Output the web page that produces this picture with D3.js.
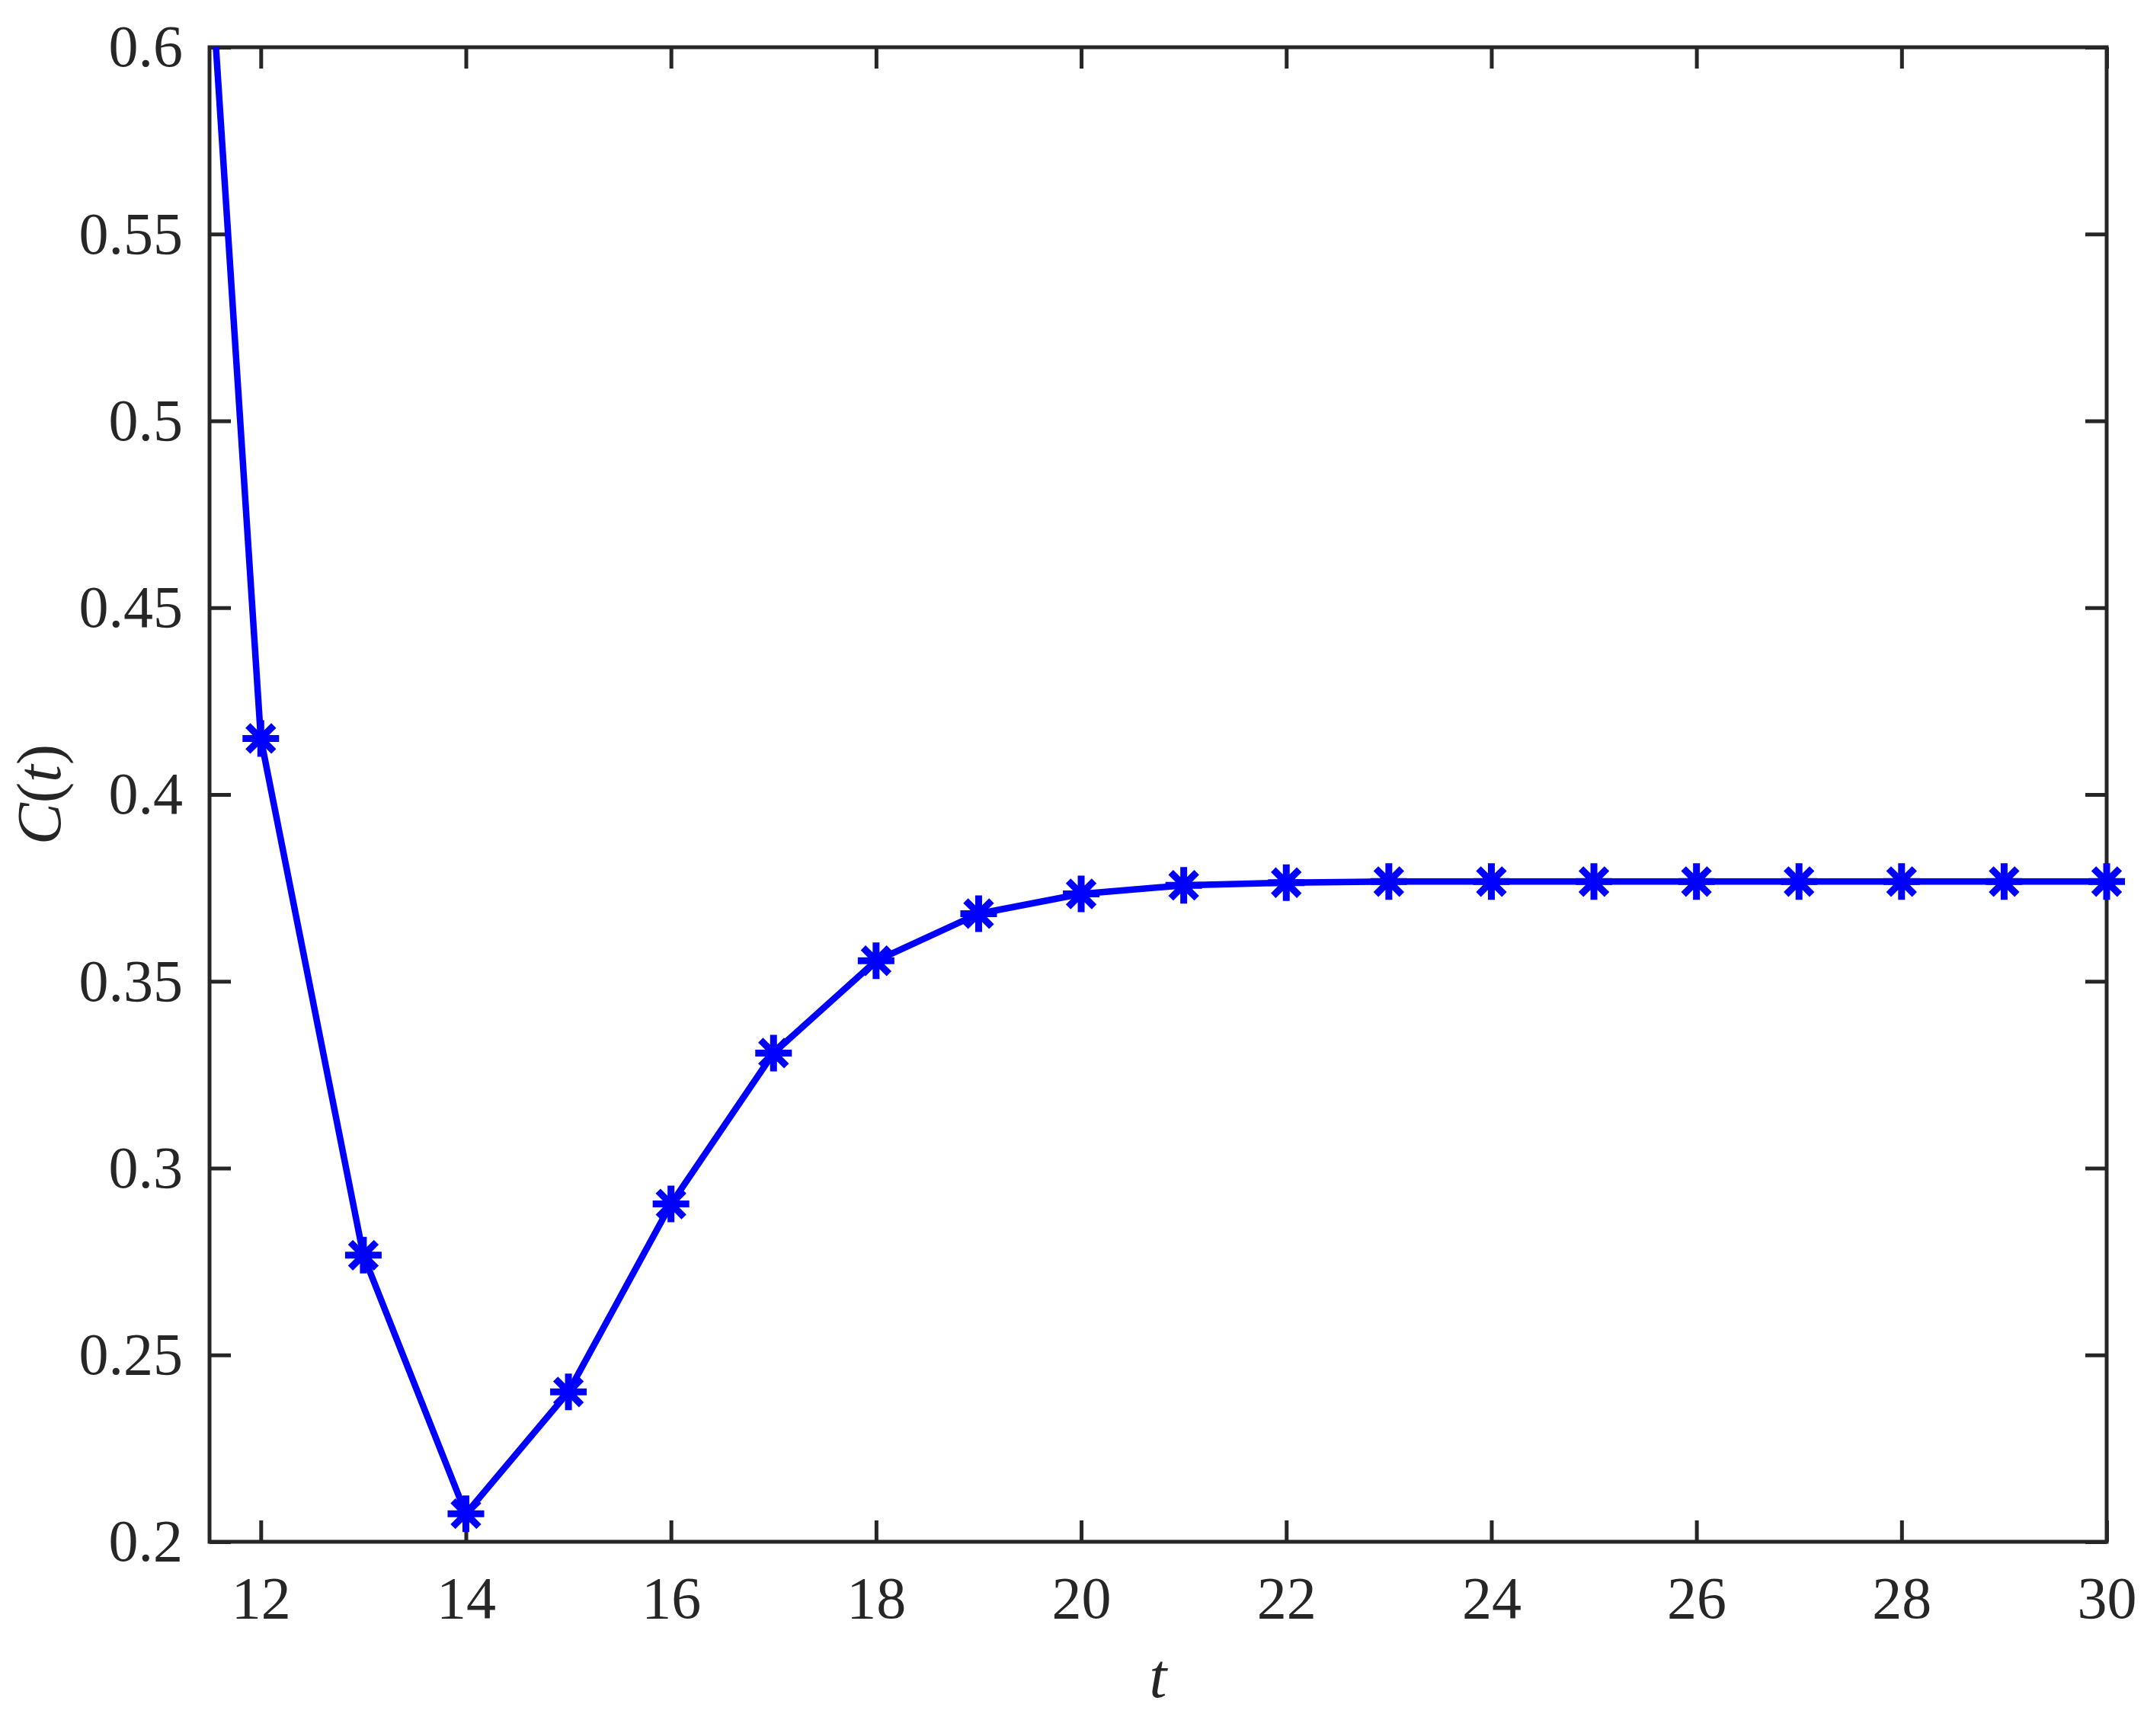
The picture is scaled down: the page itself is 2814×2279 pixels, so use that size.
<!DOCTYPE html>
<html>
<head>
<meta charset="utf-8">
<script src="https://cdn.jsdelivr.net/npm/d3@7"></script>
<style>
  body { margin: 0; background: #fff; }
  svg text { font-family: "Liberation Serif", "Times New Roman", serif; fill: #262626; }
</style>
</head>
<body>
<script>
// values
var tValues = [11, 12, 13, 14, 15, 16, 17, 18, 19, 20, 21, 22, 23, 24, 25, 26, 27, 28, 29, 30];
var cValues = [0.838, 0.415, 0.2767, 0.2075, 0.2401, 0.2904, 0.3308, 0.3555, 0.3681, 0.3734,
               0.3757, 0.3764, 0.3767, 0.3767, 0.3767, 0.3767, 0.3767, 0.3767, 0.3767, 0.3767];
var xTicks = [12, 14, 16, 18, 20, 22, 24, 26, 28, 30];
var yTicks = [0.2, 0.25, 0.3, 0.35, 0.4, 0.45, 0.5, 0.55, 0.6];
var xDomain = [11.5, 30];
var yDomain = [0.2, 0.6];

var width = 2814, height = 2279;
var plotLeft = 275, plotTop = 62, plotRight = 2765, plotBottom = 2024;
var axisColor = "#262626";

var svg = d3.select("body").append("svg")
            .attr("width", width)
            .attr("height", height);

svg.append("rect").attr("width", width).attr("height", height).attr("fill", "#fff");

var x = d3.scaleLinear().domain(xDomain).range([plotLeft, plotRight]);
var y = d3.scaleLinear().domain(yDomain).range([plotBottom, plotTop]);

var data = tValues.map(function (t, i) {
    return {t: t, c: cValues[i]};
});

svg.append("clipPath").attr("id", "plotClip")
   .append("rect")
   .attr("x", plotLeft).attr("y", plotTop)
   .attr("width", plotRight - plotLeft).attr("height", plotBottom - plotTop);

var fmt = function (d) { return String(+d.toFixed(2)); };

// axes, ticks pointing inward
var xAxis = svg.append("g")
               .attr("transform", "translate(0," + plotBottom + ")")
               .call(d3.axisBottom(x).tickValues(xTicks).tickSizeInner(-28).tickSizeOuter(0).tickPadding(45));
var xAxisTop = svg.append("g")
                  .attr("transform", "translate(0," + plotTop + ")")
                  .call(d3.axisTop(x).tickValues(xTicks).tickSizeInner(-28).tickSizeOuter(0).tickFormat(""));
var yAxis = svg.append("g")
               .attr("transform", "translate(" + plotLeft + ",0)")
               .call(d3.axisLeft(y).tickValues(yTicks).tickSizeInner(-28).tickSizeOuter(0).tickPadding(35).tickFormat(fmt));
var yAxisRight = svg.append("g")
                    .attr("transform", "translate(" + plotRight + ",0)")
                    .call(d3.axisRight(y).tickValues(yTicks).tickSizeInner(-28).tickSizeOuter(0).tickFormat(""));

[xAxis, xAxisTop, yAxis, yAxisRight].forEach(function (g) {
    g.select(".domain").remove();
    g.selectAll(".tick line").attr("stroke", axisColor).attr("stroke-width", 5);
    g.selectAll(".tick text").attr("font-size", 78).attr("fill", axisColor)
     .style("font-family", '"Liberation Serif", "Times New Roman", serif');
});

svg.append("rect")
   .attr("x", plotLeft).attr("y", plotTop)
   .attr("width", plotRight - plotLeft).attr("height", plotBottom - plotTop)
   .attr("fill", "none")
   .attr("stroke", axisColor)
   .attr("stroke-width", 5);

// axis labels
svg.append("text")
   .attr("x", (plotLeft + plotRight) / 2)
   .attr("y", 2228)
   .attr("text-anchor", "middle")
   .attr("font-size", 82)
   .attr("font-style", "italic")
   .text("t");

var yLabel = svg.append("text")
                .attr("transform", "translate(79," + ((plotTop + plotBottom) / 2) + ") rotate(-90)")
                .attr("text-anchor", "middle")
                .attr("font-size", 82);
yLabel.append("tspan").attr("font-style", "italic").text("C");
yLabel.append("tspan").text("(");
yLabel.append("tspan").attr("font-style", "italic").text("t");
yLabel.append("tspan").text(")");

// data line
var line = d3.line()
             .x(function (d) { return x(d.t); })
             .y(function (d) { return y(d.c); });

svg.append("path")
   .datum(data)
   .attr("clip-path", "url(#plotClip)")
   .attr("d", line)
   .attr("fill", "none")
   .attr("stroke", "#0000ff")
   .attr("stroke-width", 8.5)
   .attr("stroke-linejoin", "round");

// asterisk markers
var r = 24, a = r * Math.SQRT1_2;
var star = "M0," + (-r) + "L0," + r + "M" + (-r) + ",0L" + r + ",0" +
           "M" + (-a) + "," + (-a) + "L" + a + "," + a +
           "M" + (-a) + "," + a + "L" + a + "," + (-a);

svg.append("g")
   .selectAll("path")
   .data(data.filter(function (d) { return d.t >= xDomain[0]; }))
   .enter().append("path")
   .attr("transform", function (d) { return "translate(" + x(d.t) + "," + y(d.c) + ")"; })
   .attr("d", star)
   .attr("fill", "none")
   .attr("stroke", "#0000ff")
   .attr("stroke-width", 9);
</script>
</body>
</html>
